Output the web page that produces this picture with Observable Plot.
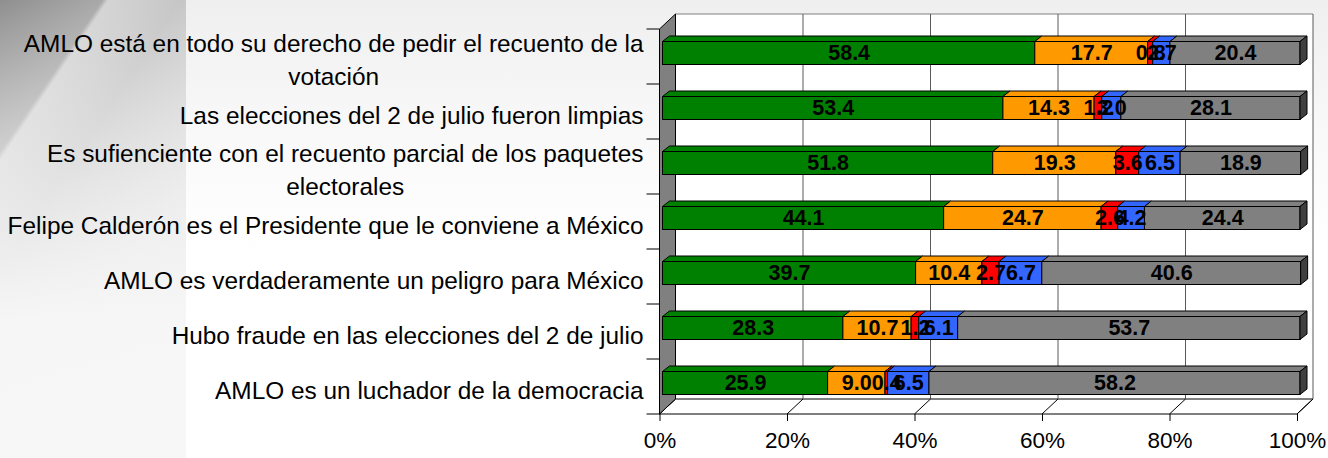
<!DOCTYPE html>
<html><head><meta charset="utf-8">
<script src="https://cdn.jsdelivr.net/npm/d3@7"></script>
<script src="https://cdn.jsdelivr.net/npm/@observablehq/plot@0.6"></script>
<style>
html,body{margin:0;padding:0;}
body{width:1328px;height:458px;overflow:hidden;position:relative;
 background:linear-gradient(to bottom,#efefef 0%,#f9f9f9 30%,#ffffff 55%);
 font-family:"Liberation Sans",Arial,sans-serif;}
#panel{position:absolute;left:0;top:0;width:186px;height:458px;
 background:
  linear-gradient(to bottom, rgba(247,247,247,0) 0%, rgba(247,247,247,0.6) 40%, rgba(247,247,247,0.97) 70%, #f7f7f7 100%),
  linear-gradient(124deg, #8f8f8f 0px, #a9a9a9 85px, #d4d4d4 90px, #c6c6c6 150px, #dcdcdc 260px, #e9e9e9 400px);}
#chart{position:absolute;left:0;top:0;}
</style></head>
<body><div id="panel"></div><div id="chart"></div>
<script>
// ---- data ----
const categories = [
  "AMLO está en todo su derecho de pedir el recuento de la votación",
  "Las elecciones del 2 de julio fueron limpias",
  "Es sufienciente con el recuento parcial de los paquetes electorales",
  "Felipe Calderón es el Presidente que le conviene a México",
  "AMLO es verdaderamente un peligro para México",
  "Hubo fraude en las elecciones del 2 de julio",
  "AMLO es un luchador de la democracia"
];
const categoryLabels = [
  "AMLO está en todo su derecho de pedir el recuento de la\nvotación",
  "Las elecciones del 2 de julio fueron limpias",
  "Es sufienciente con el recuento parcial de los paquetes\nelectorales",
  "Felipe Calderón es el Presidente que le conviene a México",
  "AMLO es verdaderamente un peligro para México",
  "Hubo fraude en las elecciones del 2 de julio",
  "AMLO es un luchador de la democracia"
];
const seriesNames = ["De acuerdo", "Ni de acuerdo ni en desacuerdo", "Depende", "No sabe", "En desacuerdo"];
const seriesColors = ["#008000", "#ff9900", "#ff0000", "#3366ff", "#808080"];
const greenValues  = [58.4, 53.4, 51.8, 44.1, 39.7, 28.3, 25.9];
const orangeValues = [17.7, 14.3, 19.3, 24.7, 10.4, 10.7, 9.0];
const redValues    = [0.8, 1.2, 3.6, 2.6, 2.7, 1.2, 0.4];
const blueValues   = [2.7, 3.0, 6.5, 4.2, 6.7, 6.1, 6.5];
const grayValues   = [20.4, 28.1, 18.9, 24.4, 40.6, 53.7, 58.2];
const xTicks = [0, 20, 40, 60, 80, 100];

const seriesValues = [greenValues, orangeValues, redValues, blueValues, grayValues];
const data = [];
categories.forEach((c, i) => seriesNames.forEach((s, k) => data.push({cat: c, series: s, value: seriesValues[k][i]})));

// ---- 3D look ----
const WALL = {dx: 16, dy: -15};
const BAR = {dx: 3, dy: -3.5};
const DEPTH = {dx: 7, dy: -5.5};
const INSET = 16;
const fmt = d3.format(".1f");

function frame3d(index, scales, values, dims) {
  const {x, y} = scales;
  const x0 = x(0), x1 = x(100);
  const yt = dims.marginTop, yb = dims.height - dims.marginBottom;
  const g = d3.create("svg:g");
  g.append("path").attr("d", `M${x0+WALL.dx},${yt+WALL.dy}H${x1+WALL.dx}V${yb+WALL.dy}H${x0+WALL.dx}Z`)
    .attr("fill", "#fff").attr("stroke", "none");
  g.append("path").attr("d", `M${x0},${yb}L${x1},${yb}L${x1+WALL.dx},${yb+WALL.dy}L${x0+WALL.dx},${yb+WALL.dy}Z`)
    .attr("fill", "#fff").attr("stroke", "#000").attr("stroke-width", 1);
  g.append("line").attr("x1", x0+WALL.dx).attr("x2", x1+WALL.dx).attr("y1", yt+WALL.dy).attr("y2", yt+WALL.dy)
    .attr("stroke", "#808080");
  for (const t of xTicks) {
    g.append("line").attr("x1", x(t)+WALL.dx).attr("x2", x(t)+WALL.dx).attr("y1", yt+WALL.dy).attr("y2", yb+WALL.dy)
      .attr("stroke", "#5a5a5a").attr("stroke-width", 1);
    g.append("line").attr("x1", x(t)).attr("x2", x(t)+WALL.dx).attr("y1", yb).attr("y2", yb+WALL.dy)
      .attr("stroke", "#000").attr("stroke-width", 1);
  }
  g.append("path").attr("d", `M${x0},${yt}L${x0+WALL.dx},${yt+WALL.dy}V${yb+WALL.dy}L${x0},${yb}Z`)
    .attr("fill", "#808080").attr("stroke", "#000").attr("stroke-width", 1);
  const bw = y.bandwidth();
  const bounds = categories.map(c => y(c)).concat([y(categories[categories.length-1]) + bw]);
  for (const b of bounds) {
    g.append("line").attr("x1", x0-13).attr("x2", x0).attr("y1", b).attr("y2", b).attr("stroke", "#000");
  }
  return g.node();
}

function faces(index, scales) {
  const {x, y, color} = scales;
  const bw = y.bandwidth();
  const g = d3.create("svg:g");
  categories.forEach((c, i) => {
    let acc = 0;
    const top = y(c) + INSET + BAR.dy, bottom = y(c) + bw - INSET + BAR.dy;
    seriesValues.forEach((vals, k) => {
      const a = x(acc) + BAR.dx, b = x(acc + vals[i]) + BAR.dx;
      acc += vals[i];
      const col = color(seriesNames[k]);
      g.append("path")
        .attr("d", `M${a},${top}L${b},${top}L${b+DEPTH.dx},${top+DEPTH.dy}L${a+DEPTH.dx},${top+DEPTH.dy}Z`)
        .attr("fill", col).attr("stroke", "#000").attr("stroke-width", 1).attr("stroke-linejoin", "round");
      if (k === seriesValues.length - 1) {
        g.append("path")
          .attr("d", `M${b},${top}L${b+DEPTH.dx},${top+DEPTH.dy}L${b+DEPTH.dx},${bottom+DEPTH.dy}L${b},${bottom}Z`)
          .attr("fill", "#404040").attr("stroke", "#000").attr("stroke-width", 1);
      }
    });
  });
  return g.node();
}

const chart = Plot.plot({
  width: 1328, height: 458,
  marginLeft: 659.5, marginRight: 31, marginTop: 29, marginBottom: 44,
  style: {background: "transparent", fontFamily: '"Liberation Sans", Arial, sans-serif', fontSize: "22.5px", color: "#000"},
  x: {domain: [0, 100], ticks: xTicks, tickFormat: d => d + "%", tickSize: 7, tickPadding: 11, label: null},
  y: {domain: categories, padding: 0, axis: null},
  color: {domain: seriesNames, range: seriesColors},
  marks: [
    frame3d,
    Plot.barX(data, Plot.stackX({y: "cat", x: "value", fill: "series", stroke: "#000", strokeWidth: 1,
      insetTop: INSET, insetBottom: INSET, dx: BAR.dx, dy: BAR.dy})),
    faces,
    Plot.text(data, Plot.stackX({y: "cat", x: "value", text: d => fmt(d.value),
      fontSize: 21.5, fontWeight: "bold", fill: "#000", dx: BAR.dx, dy: BAR.dy})),
    Plot.text(categories, {y: d => d, text: (d, i) => categoryLabels[i], frameAnchor: "left",
      textAnchor: "end", dx: -16.5, dy: 1, fontSize: 24.4, lineHeight: 1.36, fill: "#000"})
  ]
});
document.getElementById("chart").appendChild(chart);

// center multi-line labels while keeping their right edge
const groups = chart.querySelectorAll('g[aria-label="text"]');
const labelGroup = groups[groups.length - 1];
labelGroup.querySelectorAll("text").forEach(t => {
  const b0 = t.getBBox();
  const right0 = b0.x + b0.width;
  t.setAttribute("text-anchor", "middle");
  const b1 = t.getBBox();
  const shift = right0 - (b1.x + b1.width);
  const tr = t.getAttribute("transform") || "";
  t.setAttribute("transform", (tr + ` translate(${shift},0)`).trim());
});
</script>
</body></html>
